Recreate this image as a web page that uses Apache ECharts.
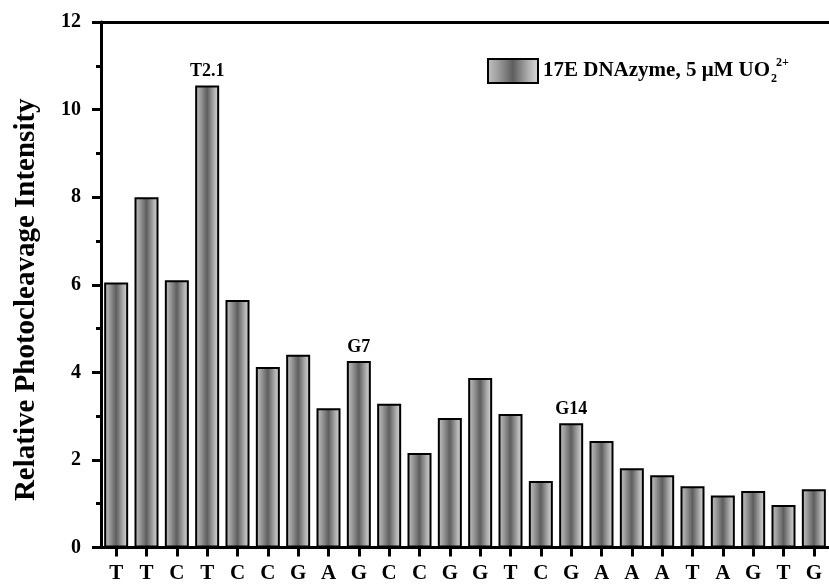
<!DOCTYPE html>
<html>
<head>
<meta charset="utf-8">
<script src="https://cdn.jsdelivr.net/npm/echarts@6/dist/echarts.min.js"></script>
<style>
html,body{margin:0;padding:0;background:#fff;}
#chart{width:829px;height:585px;}
</style>
</head>
<body>
<div id="chart"></div>
<script>
const categories = ['T','T','C','T','C','C','G','A','G','C','C','G','G','T','C','G','A','A','A','T','A','G','T','G'];
const intensity = [6.05, 8.0, 6.1, 10.55, 5.65, 4.12, 4.4, 3.18, 4.26, 3.28, 2.16, 2.96, 3.87, 3.05, 1.52, 2.84, 2.43, 1.81, 1.65, 1.40, 1.19, 1.29, 0.97, 1.33];
const annotations = ['', '', '', 'T2.1', '', '', '', '', 'G7', '', '', '', '', '', '', 'G14', '', '', '', '', '', '', '', ''];
const yTicks = [0, 2, 4, 6, 8, 10, 12];
const seriesName = '17E DNAzyme, 5 μM UO2 2+';

const serif = "'Liberation Serif', 'Times New Roman', serif";
const barGradient = new echarts.graphic.LinearGradient(0, 0, 1, 0, [
  {offset: 0, color: '#c4c4c4'},
  {offset: 0.2, color: '#a0a0a0'},
  {offset: 0.5, color: '#5e5e5e'},
  {offset: 0.8, color: '#b0b0b0'},
  {offset: 1, color: '#dcdcdc'}
]);

const chart = echarts.init(document.getElementById('chart'));
chart.setOption({
  animation: false,
  backgroundColor: '#fff',
  textStyle: {fontFamily: serif, fontWeight: 'bold', color: '#000'},
  grid: {left: 101, top: 22, width: 732, height: 525.5, containLabel: false},
  legend: {
    left: 487, top: 56, padding: 0,
    itemWidth: 50, itemHeight: 24, itemGap: 6,
    data: [{name: seriesName, icon: 'rect', itemStyle: {color: barGradient, borderColor: '#000', borderWidth: 2}}],
    formatter: function () { return '{a|17E DNAzyme, 5 μM UO}{sub|2}{sup|2+}'; },
    textStyle: {
      fontFamily: serif, fontWeight: 'bold',
      rich: {
        a: {fontFamily: serif, fontWeight: 'bold', fontSize: 21, color: '#000', lineHeight: 30, verticalAlign: 'middle'},
        sub: {fontFamily: serif, fontWeight: 'bold', fontSize: 12, color: '#000', lineHeight: 30, verticalAlign: 'bottom', padding: [0, 0, 1, 1]},
        sup: {fontFamily: serif, fontWeight: 'bold', fontSize: 12, color: '#000', lineHeight: 30, verticalAlign: 'top', padding: [1, 0, 0, -1]}
      }
    }
  },
  xAxis: [{
    type: 'category',
    data: categories,
    boundaryGap: true,
    axisLine: {show: true, lineStyle: {color: '#000', width: 3}},
    axisTick: {show: true, alignWithLabel: true, length: 9, lineStyle: {color: '#000', width: 3}},
    axisLabel: {
      margin: 16, interval: 0,
      fontFamily: serif, fontWeight: 'bold', fontSize: 21, color: '#000'
    },
    splitLine: {show: false}
  }, {
    type: 'category',
    position: 'top',
    data: categories,
    axisLine: {show: true, lineStyle: {color: '#000', width: 3}},
    axisTick: {show: false},
    axisLabel: {show: false}
  }],
  yAxis: {
    type: 'value',
    min: yTicks[0], max: yTicks[yTicks.length - 1], interval: 2,
    name: 'Relative Photocleavage Intensity',
    nameLocation: 'middle',
    nameGap: 60,
    nameTextStyle: {fontFamily: serif, fontWeight: 'bold', fontSize: 29, color: '#000', padding: [0, 30, 0, 0]},
    axisLine: {show: true, lineStyle: {color: '#000', width: 3}},
    axisTick: {show: true, length: 9, lineStyle: {color: '#000', width: 3}},
    minorTick: {show: true, splitNumber: 2, length: 5, lineStyle: {color: '#000', width: 3}},
    axisLabel: {margin: 20, fontFamily: serif, fontWeight: 'bold', fontSize: 20, color: '#000'},
    splitLine: {show: false}
  },
  series: [{
    name: seriesName,
    type: 'bar',
    data: intensity,
    barWidth: 24,
    itemStyle: {color: barGradient, borderColor: '#000', borderWidth: 2},
    label: {
      show: true, position: 'top', distance: 5,
      formatter: function (p) { return annotations[p.dataIndex]; },
      fontFamily: serif, fontWeight: 'bold', fontSize: 18, color: '#000'
    }
  }]
});
</script>
</body>
</html>
